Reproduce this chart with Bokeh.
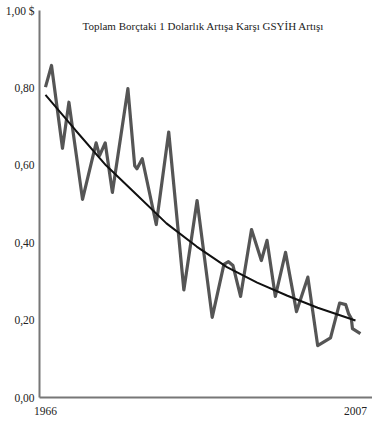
from bokeh.plotting import figure
from bokeh.models import FixedTicker, Range1d, Label
from bokeh.embed import file_html
from bokeh.resources import INLINE

# GDP growth per 1 dollar of total debt growth
years = [1966.0, 1966.8, 1968.25, 1969.1, 1970.9, 1972.7, 1973.15, 1973.9, 1974.85,
         1976.9, 1977.8, 1978.1, 1978.8, 1980.65, 1982.3, 1984.3, 1986.05, 1988.05,
         1989.6, 1990.2, 1990.8, 1991.8, 1993.25, 1994.55, 1995.3, 1996.4, 1997.75,
         1999.2, 2000.7, 2002.0, 2003.7, 2004.9, 2005.7, 2006.1, 2006.45, 2006.6, 2007.65]
values = [0.802, 0.858, 0.644, 0.763, 0.512, 0.658, 0.625, 0.658, 0.530,
          0.798, 0.599, 0.591, 0.617, 0.447, 0.686, 0.278, 0.509, 0.207,
          0.344, 0.351, 0.341, 0.261, 0.434, 0.354, 0.406, 0.261, 0.375,
          0.222, 0.311, 0.134, 0.154, 0.244, 0.240, 0.216, 0.204, 0.178, 0.165]

# trend curve
trend_years = [1966, 1970, 1974, 1978, 1982, 1986, 1990, 1994, 1998, 2002, 2007]
trend_values = [0.782, 0.690, 0.600, 0.525, 0.450, 0.390, 0.337, 0.297, 0.263, 0.232, 0.199]

y_ticks = [0.0, 0.2, 0.4, 0.6, 0.8, 1.0]
y_tick_labels = ["0,00", "0,20", "0,40", "0,60", "0,80", "1,00 $"]
x_ticks = [1966, 2007]
title_text = "Toplam Borçtaki 1 Dolarlık Artışa Karşı GSYİH Artışı"

FONT = "Liberation Serif"

p = figure(width=372, height=420, output_backend="svg", toolbar_location=None,
           x_range=Range1d(1965.21, 2009.25), y_range=Range1d(0, 1.0),
           min_border_left=39, min_border_right=0, min_border_top=10, min_border_bottom=23)
p.outline_line_color = None
p.xgrid.visible = False
p.ygrid.visible = False
p.background_fill_color = "white"
p.border_fill_color = "white"

p.line(years, values, line_color="#555555", line_width=3.2, line_join="round")
p.line(trend_years, trend_values, line_color="#111111", line_width=2)

p.yaxis.ticker = FixedTicker(ticks=y_ticks)
p.yaxis.major_label_overrides = {t: s for t, s in zip(y_ticks, y_tick_labels)}
p.xaxis.ticker = FixedTicker(ticks=x_ticks)

for ax in (p.xaxis[0], p.yaxis[0]):
    ax.axis_line_color = "#777777"
    ax.axis_line_width = 2
    ax.major_tick_line_color = None
    ax.minor_tick_line_color = None
    ax.major_tick_out = 0
    ax.major_tick_in = 0
    ax.minor_tick_out = 0
    ax.minor_tick_in = 0
    ax.axis_label_standoff = 0
    ax.major_label_text_font = FONT
    ax.major_label_text_font_size = "11.5px"
    ax.major_label_text_color = "#222222"
p.yaxis.major_label_standoff = 5
p.xaxis.major_label_standoff = 9

p.add_layout(Label(x=1986.9, y=0.961, text=title_text, text_font=FONT,
                   text_font_size="11px", text_color="#222222",
                   text_align="center", text_baseline="middle"))

open("out.html", "w").write(file_html(p, INLINE))
